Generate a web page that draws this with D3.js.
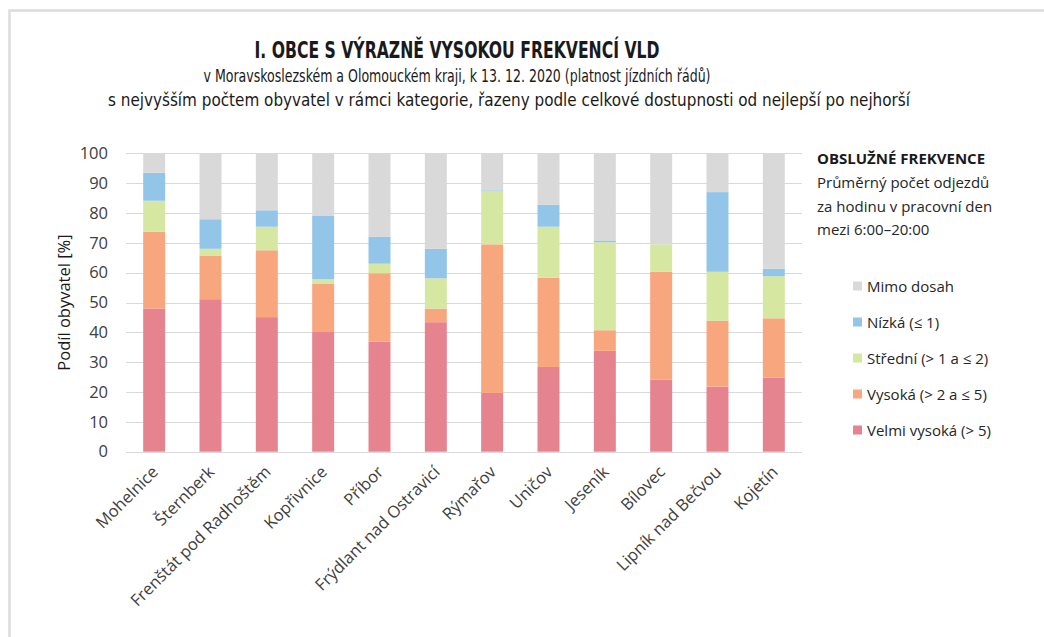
<!DOCTYPE html>
<html>
<head>
<meta charset="utf-8">
<script src="https://d3js.org/d3.v7.min.js"></script>
<style>
  body { margin: 0; background: #fff; }
  svg { display: block; font-family: "Open Sans", sans-serif; }
  .grid line { stroke: #d9d9d9; stroke-width: 1px; }
  .tick text { fill: #404040; }
</style>
</head>
<body>
<svg id="chart" width="1044" height="637"></svg>
<script>

var towns = ["Mohelnice", "Šternberk", "Frenštát pod Radhoštěm", "Kopřivnice", "Příbor",
  "Frýdlant nad Ostravicí", "Rýmařov", "Uničov", "Jeseník", "Bílovec", "Lipník nad Bečvou", "Kojetín"];

// shares of inhabitants per frequency class [%]
var velmiVysoka = [48.0, 51.1, 45.1, 40.1, 36.9, 43.4, 19.7, 28.4, 33.8, 24.1, 21.8, 24.8];
var vysoka      = [25.7, 14.5, 22.4, 16.1, 22.9, 4.5, 49.8, 29.9, 6.9, 36.2, 22.1, 19.9];
var stredni     = [10.4, 2.4, 7.9, 1.6, 3.2, 10.2, 17.8, 17.1, 29.5, 9.2, 16.4, 14.1];
var nizka       = [9.4, 9.9, 5.5, 21.2, 9.1, 9.9, 0.3, 7.4, 0.6, 0, 26.7, 2.5];
var mimoDosah   = [6.5, 22.1, 19.1, 21.0, 27.9, 32.0, 12.4, 17.2, 29.2, 30.5, 13.0, 38.7];

var seriesNames = ["Velmi vysoká (> 5)", "Vysoká (> 2 a ≤ 5)", "Střední (> 1 a ≤ 2)", "Nízká (≤ 1)", "Mimo dosah"];
var seriesColors = ["#e5838f", "#f8a67e", "#d5e7a1", "#93c5e8", "#d9d9d9"];
var yTicks = [0, 10, 20, 30, 40, 50, 60, 70, 80, 90, 100];

var keys = ["v0", "v1", "v2", "v3", "v4"];
var rows = towns.map(function(t, i) {
  return { town: t, v0: velmiVysoka[i], v1: vysoka[i], v2: stredni[i], v3: nizka[i], v4: mimoDosah[i] };
});

var svg = d3.select("#chart");

// outer frame
svg.append("rect")
    .attr("x", 9.5).attr("y", 10.5)
    .attr("width", 1100).attr("height", 700)
    .attr("fill", "none")
    .attr("stroke", "#dcdcdc")
    .attr("stroke-width", 2.5);

var x = d3.scaleBand().domain(towns).range([126, 802]).paddingInner(0.61).paddingOuter(0.305);
var y = d3.scaleLinear().domain([0, 100]).range([451.7, 153.3]);

// titles
var titleFont = "'Liberation Sans Narrow', 'DejaVu Sans Condensed', 'Open Sans', sans-serif";
svg.append("text")
    .attr("x", 457).attr("y", 58)
    .attr("text-anchor", "middle")
    .attr("font-family", titleFont)
    .attr("font-weight", "bold")
    .attr("font-size", 23)
    .attr("fill", "#1a1a1a")
    .attr("textLength", 405).attr("lengthAdjust", "spacingAndGlyphs")
    .text("I. OBCE S VÝRAZNĚ VYSOKOU FREKVENCÍ VLD");

svg.append("text")
    .attr("x", 457).attr("y", 82)
    .attr("text-anchor", "middle")
    .attr("font-family", titleFont)
    .attr("font-size", 17)
    .attr("fill", "#1a1a1a")
    .attr("textLength", 507).attr("lengthAdjust", "spacingAndGlyphs")
    .text("v Moravskoslezském a Olomouckém kraji, k 13. 12. 2020 (platnost jízdních řádů)");

svg.append("text")
    .attr("x", 509).attr("y", 106)
    .attr("text-anchor", "middle")
    .attr("font-family", titleFont)
    .attr("font-size", 17)
    .attr("fill", "#1a1a1a")
    .attr("textLength", 802).attr("lengthAdjust", "spacingAndGlyphs")
    .text("s nejvyšším počtem obyvatel v rámci kategorie, řazeny podle celkové dostupnosti od nejlepší po nejhorší");

// grid
svg.append("g")
    .attr("class", "grid")
  .selectAll("line")
  .data(yTicks)
  .enter().append("line")
    .attr("x1", 126).attr("x2", 802)
    .attr("y1", function(d) { return Math.round(y(d)) + 0.5; })
    .attr("y2", function(d) { return Math.round(y(d)) + 0.5; });

// y axis labels
var yAxis = svg.append("g")
    .attr("transform", "translate(126,0)")
    .call(d3.axisLeft(y).tickValues(yTicks).tickSize(0).tickPadding(18));
yAxis.select(".domain").remove();
yAxis.selectAll("text")
    .attr("font-size", 16.5)
    .attr("font-family", "'Open Sans', sans-serif");

svg.append("text")
    .attr("transform", "translate(70," + y(50) + ") rotate(-90)")
    .attr("text-anchor", "middle")
    .attr("font-size", 16.5)
    .attr("fill", "#1a1a1a")
    .text("Podíl obyvatel [%]");

// stacked bars
var stacked = d3.stack().keys(keys)(rows);
svg.append("g")
  .selectAll("g")
  .data(stacked)
  .enter().append("g")
    .attr("fill", function(d, i) { return seriesColors[i]; })
  .selectAll("rect")
  .data(function(d) { return d; })
  .enter().append("rect")
    .attr("x", function(d) { return x(d.data.town); })
    .attr("width", x.bandwidth())
    .attr("y", function(d) { return y(d[1]); })
    .attr("height", function(d) { return y(d[0]) - y(d[1]); });

// x labels
var xAxis = svg.append("g")
    .attr("transform", "translate(0,452)")
    .call(d3.axisBottom(x).tickSize(0).tickPadding(0));
xAxis.select(".domain").remove();
xAxis.selectAll("text")
    .attr("font-size", 16.5)
    .attr("font-family", "'Open Sans', sans-serif")
    .attr("text-anchor", "end")
    .attr("dy", 0)
    .attr("transform", "translate(5,21) rotate(-45)");

// legend
var lx = 817;
svg.append("text")
    .attr("x", lx).attr("y", 164)
    .attr("font-weight", "bold")
    .attr("font-size", 15)
    .attr("fill", "#1a1a1a")
    .text("OBSLUŽNÉ FREKVENCE");

var legendNote = ["Průměrný počet odjezdů", "za hodinu v pracovní den", "mezi 6:00–20:00"];
svg.append("g")
  .selectAll("text")
  .data(legendNote)
  .enter().append("text")
    .attr("x", lx)
    .attr("y", function(d, i) { return 188 + i * 23.5; })
    .attr("font-size", 15)
    .attr("fill", "#262626")
    .text(function(d) { return d; });

var legendOrder = [4, 3, 2, 1, 0];
var item = svg.append("g")
  .selectAll("g")
  .data(legendOrder)
  .enter().append("g")
    .attr("transform", function(d, i) { return "translate(853," + (286 + i * 36) + ")"; });

item.append("rect")
    .attr("x", 0).attr("y", -4.5)
    .attr("width", 9).attr("height", 9)
    .attr("fill", function(d) { return seriesColors[d]; });

item.append("text")
    .attr("x", 14).attr("y", 5.5)
    .attr("font-size", 15)
    .attr("fill", "#262626")
    .text(function(d) { return seriesNames[d]; });

</script>
</body>
</html>
